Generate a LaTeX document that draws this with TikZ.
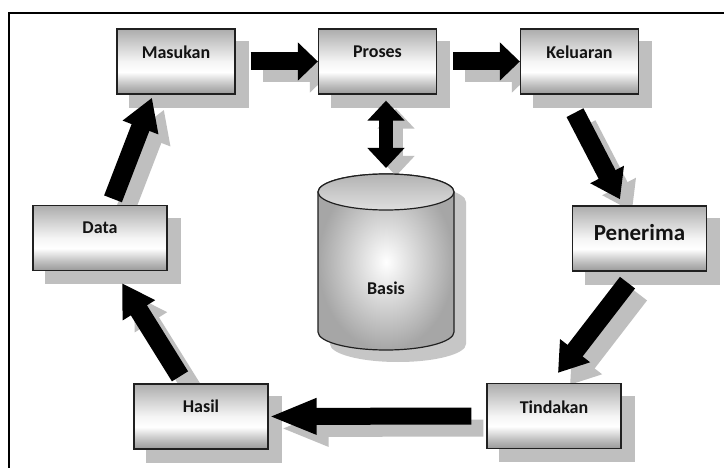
\documentclass[tikz,border=0pt]{standalone}
\usepackage{fontspec}
\setmainfont{Carlito}
\usetikzlibrary{arrows.meta}
\pgfdeclarelayer{shadowlayer}
\pgfdeclarelayer{arrowlayer}
\pgfsetlayers{shadowlayer,arrowlayer,main}
\pgfdeclareverticalshading{boxshade}{100bp}{color(0bp)=(gray!80); color(25bp)=(gray!80); color(32bp)=(gray!50); color(42bp)=(white); color(50bp)=(gray!8); color(62bp)=(gray!35); color(75bp)=(gray!65); color(100bp)=(gray!65)}
\newcommand{\myblk}[5]{%
  \begin{pgfonlayer}{shadowlayer}
    \draw[arrshadow, line width=#5, -{Triangle[length=#3,width=#4]}] ([shift={(12,12)}]#1) -- ([shift={(12,12)}]#2);
  \end{pgfonlayer}
  \begin{pgfonlayer}{arrowlayer}
    \draw[arrblack, line width=#5, -{Triangle[length=#3,width=#4]}] (#1) -- (#2);
  \end{pgfonlayer}}
\begin{document}
\begin{tikzpicture}[x=1pt,y=-1pt,
  boxbase/.style={draw=gray!25!black, line width=1.3pt, shade, shading=boxshade, inner sep=0pt},
  topbox/.style={boxbase, minimum width=118pt, minimum height=65pt},
  sidebox/.style={boxbase, minimum width=134pt, minimum height=65pt},
  txt/.style={font=\bfseries\fontsize{18}{20}\selectfont, text=gray!15!black, inner sep=0pt},
  bigtxt/.style={font=\bfseries\fontsize{23}{26}\selectfont, text=gray!15!black, inner sep=0pt},
  boxshadow/.style={fill=gray!50, draw=none},
  arrshadow/.style={draw=gray!50},
  arrblack/.style={draw=black}]
\useasboundingbox (0,0) rectangle (724,468);
\begin{pgfonlayer}{shadowlayer}
  \fill[white] (0,0) rectangle (724,468);
\end{pgfonlayer}
\draw[line width=1.5pt] (9,468) -- (9,13) -- (724,13);

% boxes
\node[topbox, label={[txt,yshift=9.5pt]center:Masukan}] (masukan) at (176,61.5) {};
\node[topbox, label={[txt,yshift=9.5pt]center:Proses}] (proses) at (377.5,61.5) {};
\node[topbox, label={[txt,yshift=9.5pt]center:Keluaran}] (keluaran) at (579.5,61.5) {};
\node[sidebox, label={[txt,yshift=10pt]center:Data}] (data) at (100,238) {};
\node[sidebox, label={[bigtxt,yshift=5.5pt]center:Penerima}] (penerima) at (639.5,238.5) {};
\node[sidebox, label={[txt,yshift=10.5pt]center:Hasil}] (hasil) at (201,416.5) {};
\node[sidebox, label={[txt,yshift=9pt]center:Tindakan}] (tindakan) at (554,416) {};

\begin{pgfonlayer}{shadowlayer}
  \foreach \n in {masukan,proses,keluaran,data,penerima,hasil,tindakan}
    \fill[boxshadow] ([shift={(13,13)}]\n.north west) rectangle ([shift={(13,13)}]\n.south east);
  \fill[gray!45] (330,202) -- (330,344) arc[start angle=180,end angle=0,x radius=68,y radius=18]
    -- (466,202) arc[start angle=0,end angle=-180,x radius=68,y radius=18] -- cycle;
\end{pgfonlayer}

% cylinder
\shade[inner color=white, outer color=gray!70, draw=gray!25!black, line width=1.2pt]
  (318,192) -- (318,332) arc[start angle=180,end angle=0,x radius=68,y radius=18]
  -- (454,192) arc[start angle=0,end angle=-180,x radius=68,y radius=18] -- cycle;
\shade[top color=gray!60, bottom color=gray!25, draw=gray!25!black, line width=1.2pt]
  (386,192) ellipse[x radius=68, y radius=18];
\node[txt] (basis) at (386,288) {Basis};
\coordinate (dbtop) at (386,168);

% connectors
\coordinate (a1s) at ([xshift=15pt]masukan.east);
\coordinate (a2s) at ([xshift=16pt]proses.east);
\coordinate (a3s) at ([shift={(-4.5,18)}]keluaran.south);
\coordinate (a3e) at ([shift={(-19.5,-6)}]penerima.north);
\coordinate (a4s) at ([shift={(-12,11)}]penerima.south);
\coordinate (a4e) at ([shift={(4,-10)}]tindakan.north);
\coordinate (a5s) at ([xshift=-15pt]tindakan.west);
\coordinate (a6s) at ([shift={(-21,-7)}]hasil.north);
\coordinate (a6e) at ([shift={(22,12)}]data.south);
\coordinate (a7s) at ([shift={(13,-6)}]data.north);
\coordinate (a7e) at ([shift={(-24,3)}]masukan.south);
\coordinate (a8s) at ([shift={(8.5,6)}]proses.south);

\myblk{a1s}{proses.west}{20pt}{37pt}{18pt}
\myblk{a2s}{keluaran.west}{20pt}{37pt}{18pt}
\myblk{a3s}{a3e}{28pt}{36pt}{19pt}
\myblk{a4s}{a4e}{28pt}{36pt}{19pt}
\myblk{a5s}{hasil.east}{48pt}{33pt}{17pt}
\myblk{a6s}{a6e}{32pt}{36pt}{19pt}
\myblk{a7s}{a7e}{32pt}{36pt}{19pt}

\begin{pgfonlayer}{shadowlayer}
  \draw[arrshadow, line width=14pt, {Triangle[length=20pt,width=36pt]}-{Triangle[length=20pt,width=36pt]}]
    ([shift={(10,8)}]a8s) -- ([shift={(10,8)}]dbtop);
\end{pgfonlayer}
\begin{pgfonlayer}{arrowlayer}
  \draw[arrblack, line width=14pt, {Triangle[length=20pt,width=36pt]}-{Triangle[length=20pt,width=36pt]}]
    (a8s) -- (dbtop);
\end{pgfonlayer}
\end{tikzpicture}
\end{document}
